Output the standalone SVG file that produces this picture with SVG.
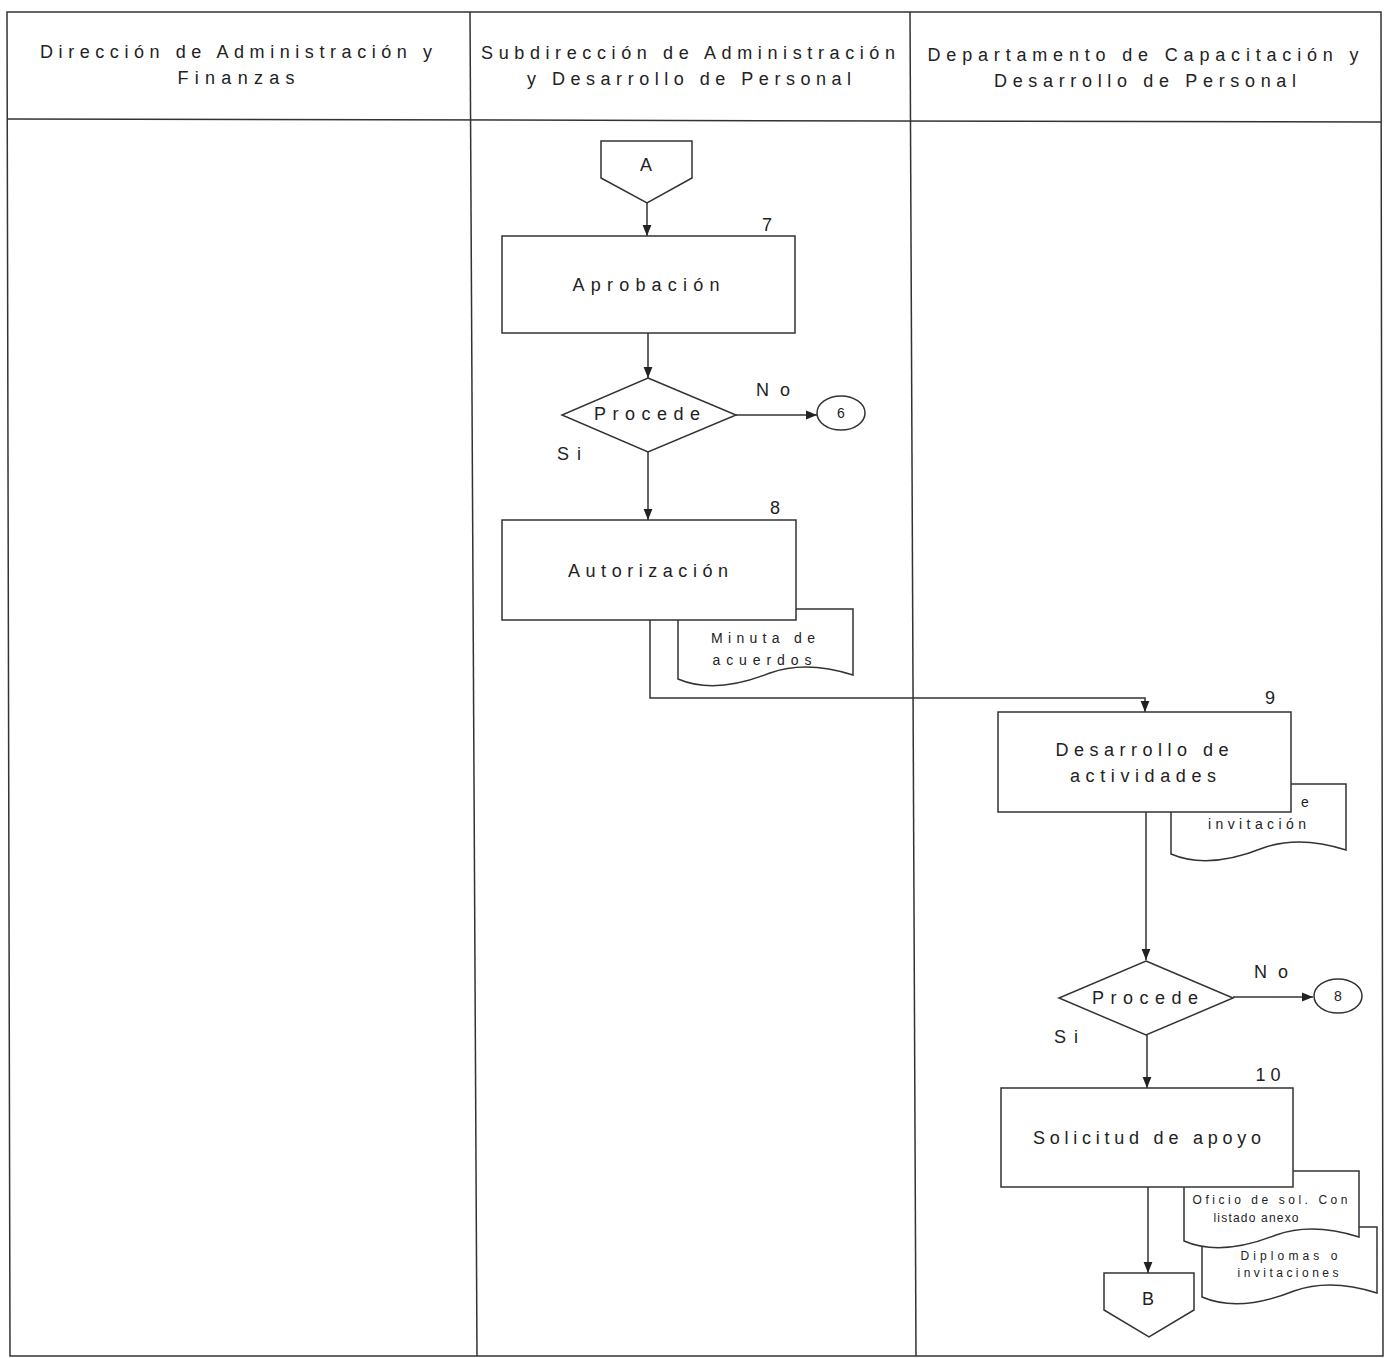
<svg xmlns="http://www.w3.org/2000/svg" width="1391" height="1358" viewBox="0 0 1391 1358">
<style>
text{font-family:"Liberation Sans",Arial,sans-serif;fill:#222;text-anchor:middle}
.h{font-size:18px}
.m{font-size:18px}
.s{font-size:14px}
.xs{font-size:12px}
.ln{fill:none;stroke:#333;stroke-width:1.5}
.sh{fill:#fff;stroke:#333;stroke-width:1.5}
</style>
<defs>
<marker id="ah" viewBox="0 0 10 10" refX="10" refY="5" markerWidth="11" markerHeight="11" markerUnits="userSpaceOnUse" orient="auto">
<path d="M0,1 L10,5 L0,9 Z" fill="#222"/>
</marker>
<path id="doc" d="M0,0 H175 V66 C150,58 120,54 92,64 C62,76 28,82 0,70 Z"/>
</defs>
<rect width="1391" height="1358" fill="#fff"/>
<g id="frame" class="ln">
<path d="M7,12 L1381,12 L1383,1356 L10,1356 Z"/>
<path d="M7,119 L1381,122"/>
<path d="M470,12 L477,1356"/>
<path d="M910,12 L916,1356"/>
</g>
<g id="headers">
<text class="h" x="236" y="58" textLength="392" lengthAdjust="spacing">Dirección de Administración y</text>
<text class="h" x="236" y="84" textLength="117" lengthAdjust="spacing">Finanzas</text>
<text class="h" x="688" y="59" textLength="414" lengthAdjust="spacing">Subdirección de Administración</text>
<text class="h" x="689" y="85" textLength="324" lengthAdjust="spacing">y Desarrollo de Personal</text>
<text class="h" x="1143" y="61" textLength="431" lengthAdjust="spacing">Departamento de Capacitación y</text>
<text class="h" x="1145" y="87" textLength="302" lengthAdjust="spacing">Desarrollo de Personal</text>
</g>
<g id="connectors" class="ln">
<path d="M647,203 V236" marker-end="url(#ah)"/>
<path d="M648,333 V378" marker-end="url(#ah)"/>
<path d="M736,415 H817" marker-end="url(#ah)"/>
<path d="M648,452 V520" marker-end="url(#ah)"/>
<path d="M650,620 V698 H1145 V712" marker-end="url(#ah)"/>
<path d="M1146,812 V960" marker-end="url(#ah)"/>
<path d="M1233,997 H1313" marker-end="url(#ah)"/>
<path d="M1147,1035 V1088" marker-end="url(#ah)"/>
<path d="M1148,1187 V1273" marker-end="url(#ah)"/>
</g>
<g id="offpageA">
<path class="sh" d="M601,141 H692 V178 L647,203 L601,178 Z"/>
<text class="m" x="646" y="171">A</text>
</g>
<g id="step7">
<rect class="sh" x="502" y="236" width="293" height="97"/>
<text class="m" x="646" y="291" textLength="147" lengthAdjust="spacing">Aprobación</text>
<text class="m" x="767" y="231">7</text>
</g>
<g id="decision1">
<path class="sh" d="M648,378 L736,415 L648,452 L562,415 Z"/>
<text class="m" x="647" y="420" textLength="106" lengthAdjust="spacing">Procede</text>
<text class="m" x="773" y="396" textLength="34" lengthAdjust="spacing">No</text>
<text class="m" x="569" y="460" textLength="24" lengthAdjust="spacing">Si</text>
</g>
<g id="conn6">
<ellipse class="sh" cx="841" cy="413" rx="24" ry="17"/>
<text class="s" x="841" y="418">6</text>
</g>
<g id="doc-minuta">
<use href="#doc" class="sh" transform="translate(678,609)"/>
<text class="s" x="763" y="643" textLength="104" lengthAdjust="spacing">Minuta de</text>
<text class="s" x="762" y="665" textLength="99" lengthAdjust="spacing">acuerdos</text>
</g>
<g id="step8">
<rect class="sh" x="502" y="520" width="294" height="100"/>
<text class="m" x="648" y="577" textLength="160" lengthAdjust="spacing">Autorización</text>
<text class="m" x="775" y="514">8</text>
</g>
<g id="doc-invitacion">
<use href="#doc" class="sh" transform="translate(1171,784)"/>
<text class="s" x="1305" y="807">e</text>
<text class="s" x="1257" y="829" textLength="98" lengthAdjust="spacing">invitación</text>
</g>
<g id="step9">
<rect class="sh" x="998" y="712" width="293" height="100"/>
<text class="m" x="1142" y="756" textLength="173" lengthAdjust="spacing">Desarrollo de</text>
<text class="m" x="1143" y="782" textLength="146" lengthAdjust="spacing">actividades</text>
<text class="m" x="1270" y="704">9</text>
</g>
<g id="decision2">
<path class="sh" d="M1146,961 L1233,998 L1146,1035 L1059,998 Z"/>
<text class="m" x="1145" y="1004" textLength="106" lengthAdjust="spacing">Procede</text>
<text class="m" x="1271" y="978" textLength="34" lengthAdjust="spacing">No</text>
<text class="m" x="1066" y="1043" textLength="24" lengthAdjust="spacing">Si</text>
</g>
<g id="conn8">
<ellipse class="sh" cx="1338" cy="996" rx="24" ry="17"/>
<text class="s" x="1338" y="1001">8</text>
</g>
<g id="doc-diplomas">
<use href="#doc" class="sh" transform="translate(1202,1227)"/>
<text class="xs" x="1289" y="1260" textLength="97" lengthAdjust="spacing">Diplomas o</text>
<text class="xs" x="1288" y="1277" textLength="101" lengthAdjust="spacing">invitaciones</text>
</g>
<g id="doc-oficio">
<use href="#doc" class="sh" transform="translate(1184,1171)"/>
<text class="xs" x="1270" y="1204" textLength="155" lengthAdjust="spacing">Oficio de sol. Con</text>
<text class="xs" x="1256" y="1222" textLength="85" lengthAdjust="spacing">listado anexo</text>
</g>
<g id="step10">
<rect class="sh" x="1001" y="1088" width="292" height="99"/>
<text class="m" x="1147" y="1144" textLength="228" lengthAdjust="spacing">Solicitud de  apoyo</text>
<text class="m" x="1268" y="1081" textLength="25" lengthAdjust="spacing">10</text>
</g>
<g id="offpageB">
<path class="sh" d="M1104,1273 H1194 V1310 L1149,1337 L1104,1310 Z"/>
<text class="m" x="1148" y="1305">B</text>
</g>
</svg>
